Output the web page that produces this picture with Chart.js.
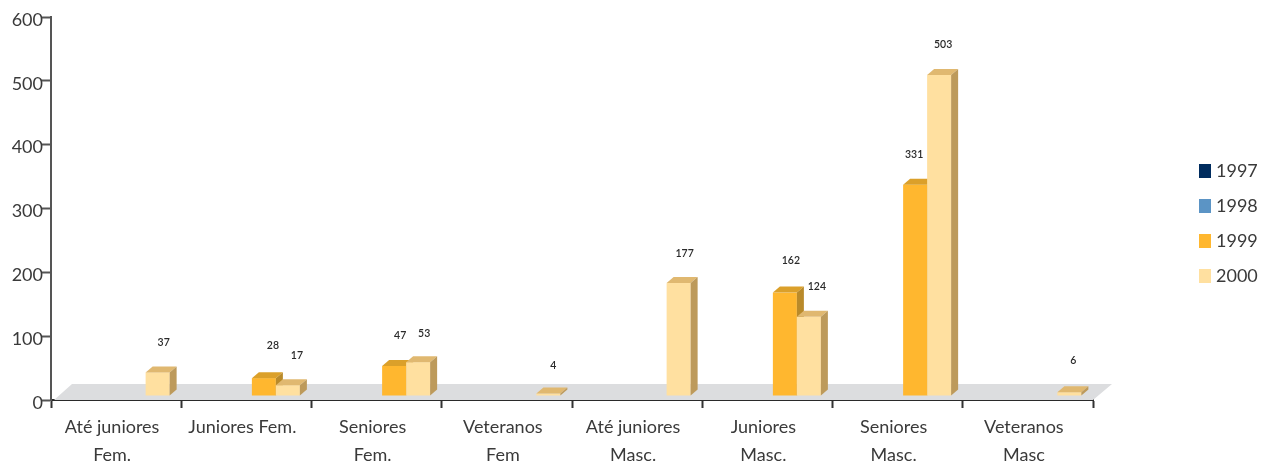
<!DOCTYPE html>
<html><head><meta charset="utf-8">
<style>html,body{margin:0;padding:0;background:#fff}canvas{display:block}</style>
<script src="https://cdn.jsdelivr.net/npm/chart.js@4"></script>
</head><body><canvas id="c" width="1261" height="463"></canvas>
<script>
const categories = [["Até juniores","Fem."],"Juniores Fem.",["Seniores","Fem."],["Veteranos","Fem"],["Até juniores","Masc."],["Juniores","Masc."],["Seniores","Masc."],["Veteranos","Masc"]];
const seriesNames = ["1997","1998","1999","2000"];
const values1997 = [null,null,null,null,null,null,null,null];
const values1998 = [null,null,null,null,null,null,null,null];
const values1999 = [null,28,47,null,null,162,331,null];
const values2000 = [37,17,53,4,177,124,503,6];
const yTicks = [0,100,200,300,400,500,600];
const colors = ["#002c5e","#5b94c5","#ffb72f","#ffe0a0"];
const topColors = ["#00234b","#49769e","#dba02a","#e0b870"];
const sideColors = ["#001c3c","#3a5e7e","#b98a2a","#bd9a5b"];
const allValues = [values1997,values1998,values1999,values2000];
const labelNudgeX1999 = [0,3,0,0,0,0,-7,0];
const labelNudgeY1999 = [0,-3,0,0,0,-2,0,0];
const labelNudgeX2000 = [0,3,0,-1,0,2,-2,-2];
const labelNudgeY2000 = [0,0,1,2,1,0,0,-2];
const nudgesX = [[],[],labelNudgeX1999,labelNudgeX2000];
const nudgesY = [[],[],labelNudgeY1999,labelNudgeY2000];

const DX=7, DY=6, SHIFT_X=5.5, LIFT=4;
const FONT='Lato';
const TEXT='#3a3a3a';

function drawBar3D(ctx,b,i){
  const x0=b.x-b.width/2+SHIFT_X, x1=x0+b.width, top=b.y-LIFT, base=b.base-LIFT;
  ctx.fillStyle=colors[i]; ctx.fillRect(x0,top,b.width,base-top);
  ctx.fillStyle=topColors[i]; ctx.beginPath();
  ctx.moveTo(x0,top);ctx.lineTo(x0+DX,top-DY);ctx.lineTo(x1+DX,top-DY);ctx.lineTo(x1,top);ctx.closePath();ctx.fill();
  ctx.fillStyle=sideColors[i]; ctx.beginPath();
  ctx.moveTo(x1,top);ctx.lineTo(x1+DX,top-DY);ctx.lineTo(x1+DX,base-DY);ctx.lineTo(x1,base);ctx.closePath();ctx.fill();
}
// The library computes each bar's geometry; the 3D faces are painted in series order below.
Chart.BarElement.prototype.draw = function(){};

const floorPlugin={id:'floor',beforeDatasetsDraw(chart){
  const {ctx,chartArea:a}=chart;
  ctx.save();ctx.fillStyle='#dcdddf';ctx.beginPath();
  ctx.moveTo(a.left+3,a.bottom);ctx.lineTo(a.left+21,a.bottom-16);ctx.lineTo(a.right+19,a.bottom-16);ctx.lineTo(a.right,a.bottom);ctx.closePath();ctx.fill();ctx.restore();
}};
const barsPlugin={id:'bars3d',afterDatasetsDraw(chart){
  const {ctx}=chart;ctx.save();
  chart.data.datasets.forEach((d,i)=>{chart.getDatasetMeta(i).data.forEach((b,j)=>{if(d.data[j]!==null)drawBar3D(ctx,b,i);});});
  ctx.restore();
}};
const labelPlugin={id:'valueLabels',afterDatasetsDraw(chart){
  const {ctx}=chart;ctx.save();ctx.font='600 10.5px '+FONT;ctx.fillStyle='#2a2a2a';ctx.textAlign='center';ctx.textBaseline='middle';
  chart.data.datasets.forEach((d,i)=>{chart.getDatasetMeta(i).data.forEach((b,j)=>{
    const v=d.data[j];if(v===null)return;
    ctx.fillText(String(v),b.x+SHIFT_X+6+(nudgesX[i][j]||0),b.y-LIFT-DY-24+(nudgesY[i][j]||0));
  });});ctx.restore();
}};
const legendPlace={id:'legendPlace',afterLayout(chart){
  const l=chart.legend;l.left=1186;l.right=1261;l.width=75;l.top=145;l.bottom=400;l.height=255;
}};

new Chart(document.getElementById('c'),{
  type:'bar',
  data:{labels:categories,datasets:seriesNames.map((n,i)=>({label:n,data:allValues[i],backgroundColor:colors[i],borderColor:colors[i],categoryPercentage:96/130.25,barPercentage:1}))},
  options:{responsive:false,animation:false,
    layout:{padding:{top:17,right:168,left:0,bottom:0}},
    plugins:{tooltip:{enabled:false},
      legend:{position:'chartArea',align:'start',labels:{padding:17,boxWidth:4,boxHeight:6,color:TEXT,font:{family:FONT,size:18,weight:'400'},
        generateLabels(chart){const it=Chart.defaults.plugins.legend.labels.generateLabels(chart);it.forEach(o=>{o.lineWidth=8;o.strokeStyle=o.fillStyle;});return it;}}}},
    scales:{
      x:{afterFit(s){s.height=63;},grid:{drawOnChartArea:false,tickLength:8,tickColor:'#333',tickWidth:2,offset:true},border:{color:'#2a2a2a',width:2},
        ticks:{color:TEXT,maxRotation:0,autoSkip:false,padding:6,labelOffset:-4,font:{family:FONT,size:18,weight:'400',lineHeight:1.52}}},
      y:{min:0,max:600,afterFit(s){s.width=51;},afterBuildTicks(s){s.ticks=yTicks.map(v=>({value:v}));},grid:{drawOnChartArea:false,tickLength:10,tickColor:'#555',tickWidth:2},border:{color:'#555',width:2},
        ticks:{color:TEXT,padding:-2,labelOffset:3,font:{family:FONT,size:18,weight:'400'}}}
    }
  },
  plugins:[floorPlugin,barsPlugin,labelPlugin,legendPlace]
});
</script></body></html>
